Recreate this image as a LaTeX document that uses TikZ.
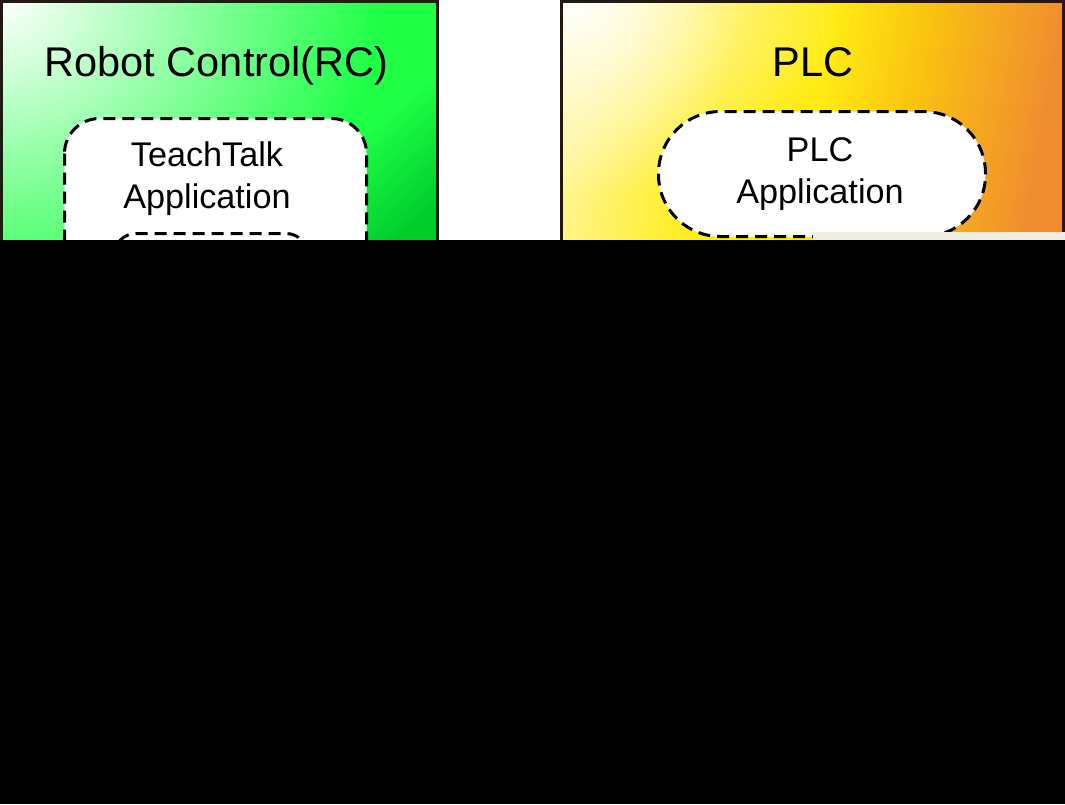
\documentclass[tikz,border=0pt]{standalone}
\usepackage{fontspec}
\setmainfont{Liberation Sans}
\usetikzlibrary{fadings}

\definecolor{edge}{RGB}{35,24,21}
\definecolor{rcgreen}{RGB}{30,255,70}
\definecolor{rcdark}{RGB}{0,205,45}
\definecolor{plcpale}{RGB}{255,245,140}
\definecolor{plcyellow}{RGB}{255,236,20}
\definecolor{plcgold}{RGB}{250,196,16}
\definecolor{plcorange}{RGB}{240,140,48}
\definecolor{beige}{RGB}{239,236,226}

\pgfdeclarehorizontalshading{rcbase}{100bp}{color(0bp)=(rcgreen); color(65bp)=(rcgreen); color(80bp)=(rcdark); color(100bp)=(rcdark)}
\pgfdeclarehorizontalshading{plcbase}{100bp}{color(0bp)=(plcpale); color(25bp)=(plcpale); color(40bp)=(plcyellow); color(50bp)=(plcyellow); color(60bp)=(plcgold); color(75bp)=(plcorange); color(100bp)=(plcorange)}
\tikzfading[name=spotfade, inner color=transparent!0, outer color=transparent!100]

\begin{document}
\begin{tikzpicture}[x=1pt, y=-1pt,
    box/.style={draw=edge, line width=3pt},
    appbox/.style={draw=black, fill=white, line width=3pt, dash pattern=on 12pt off 7pt},
    titletext/.style={font=\fontsize{41.5}{49}\selectfont, anchor=base, inner sep=0pt},
    apptext/.style={font=\fontsize{34.2}{42}\selectfont, align=center, inner sep=0pt}]
    \useasboundingbox (0,0) rectangle (1065,804);
    % robot control
    \shade[shading=rcbase, shading angle=-50] (1.5,1.5) rectangle (437,250);
    \begin{scope}
    \clip (1.5,1.5) rectangle (437,250);
    \fill[white, path fading=spotfade] (-380,-330) rectangle (380,330);
    \end{scope}
    \draw[box] (1.5,1.5) rectangle (437,250);
    \node[titletext] (rctitle) at (216.5,76) {Robot Control(RC)};
    \draw[appbox, rounded corners=35pt] (64.5,118.5) rectangle (366.5,300);
    \node[apptext, anchor=north] (teachtalk) at (207,142) {TeachTalk\\Application};
    \draw[appbox, rounded corners=22pt] (114,233.5) rectangle (308,300);
    % plc
    \shade[shading=plcbase, shading angle=-10] (561.5,1.5) rectangle (1063,250);
    \begin{scope}
    \clip (561.5,1.5) rectangle (1063,250);
    \fill[white, path fading=spotfade] (282,-200) rectangle (842,200);
    \end{scope}
    \draw[box] (561.5,1.5) rectangle (1063,250);
    \node[titletext] (plctitle) at (813,76) {PLC};
    \draw[appbox, rounded corners=62pt] (658.5,111.5) rectangle (985.5,236.5);
    \node[apptext] (plcapp) at (820,174.5) {PLC\\Application};
    % cover
    \fill[beige] (813,232) rectangle (1065,240);
    \fill[black] (0,240) rectangle (1065,804);
\end{tikzpicture}
\end{document}
